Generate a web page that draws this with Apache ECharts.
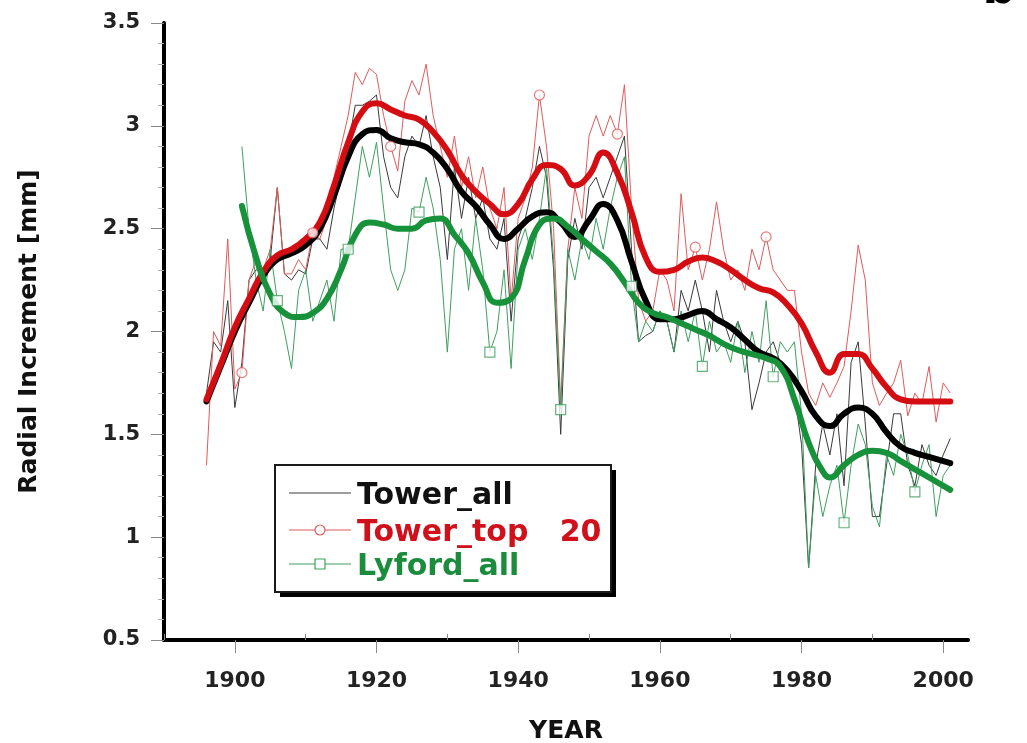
<!DOCTYPE html>
<html>
<head>
<meta charset="utf-8">
<script src="https://cdn.jsdelivr.net/npm/echarts@6/dist/echarts.min.js"></script>
<style>
  html, body { margin: 0; padding: 0; background: #fff; }
  #chart { width: 1027px; height: 743px; }
</style>
</head>
<body>
<div id="chart"></div>
<script>
// Annual radial increment [mm]
const towerAllStart = 1896;
const towerAll = [
  1.70, 1.95, 1.90, 2.15, 1.63, 1.85, 2.25, 2.30, 2.30, 2.35,
  2.70, 2.28, 2.25, 2.30, 2.28, 2.45, 2.45, 2.40, 2.60, 2.75,
  2.90, 3.10, 3.10, 3.12, 3.15, 2.85, 2.70, 2.65, 2.85, 2.95,
  2.90, 3.05, 2.85, 2.70, 2.35, 2.80, 2.55, 2.75, 2.55, 2.65,
  2.45, 2.40, 2.55, 2.05, 2.45, 2.55, 2.70, 2.90, 2.75, 2.30,
  1.50, 2.35, 2.55, 2.40, 2.70, 2.75, 2.65, 2.75, 2.85, 2.95,
  2.40, 1.95, 1.98, 2.00, 2.10, 2.05, 1.90, 2.20, 2.10, 2.25,
  2.10, 1.90, 2.20, 2.05, 1.95, 2.05, 1.95, 1.62, 1.75, 1.90,
  1.95, 1.85, 1.80, 1.70, 1.45, 0.85, 1.35, 1.55, 1.40, 1.60,
  1.25, 1.85, 1.95, 1.55, 1.10, 1.10, 1.35, 1.60, 1.60, 1.35,
  1.25, 1.45, 1.35, 1.30, 1.40, 1.48
];
const towerTopStart = 1896;
const towerTop = [
  1.35, 2.00, 1.93, 2.45, 1.72, 1.80, 2.25, 2.35, 2.30, 2.40,
  2.70, 2.28, 2.28, 2.35, 2.30, 2.48, 2.45, 2.55, 2.75, 2.90,
  3.05, 3.26, 3.20, 3.28, 3.25, 3.05, 2.90, 2.78, 3.12, 3.22,
  3.15, 3.30, 3.05, 2.90, 2.75, 2.95, 2.70, 2.85, 2.65, 2.80,
  2.60, 2.50, 2.70, 2.15, 2.55, 2.65, 2.80, 3.15, 2.90, 2.50,
  1.65, 2.40, 2.70, 2.55, 2.95, 3.05, 2.95, 3.05, 2.96, 3.20,
  2.60, 2.15, 2.05, 2.10, 2.30, 2.25, 2.10, 2.67, 2.30, 2.41,
  2.25, 2.40, 2.63, 2.40, 2.25, 2.30, 2.20, 2.40, 2.30, 2.46,
  2.30, 2.25, 2.20, 2.20, 1.90, 1.70, 1.64, 1.75, 1.68, 1.75,
  1.83, 2.10, 2.42, 2.25, 1.75, 1.64, 1.70, 1.75, 1.86, 1.59,
  1.70, 1.65, 1.83, 1.56, 1.75, 1.70
];
const lyfordStart = 1901;
const lyford = [
  2.90, 2.50, 2.25, 2.10, 2.40, 2.15, 2.00, 1.82, 2.20, 2.30,
  2.05, 2.15, 2.25, 2.05, 2.40, 2.40, 2.65, 2.90, 2.75, 2.92,
  2.60, 2.30, 2.20, 2.30, 2.60, 2.58, 2.75, 2.60, 2.35, 1.90,
  2.40, 2.50, 2.20, 2.55, 2.30, 1.90, 2.00, 2.30, 1.82, 2.40,
  2.50, 2.35, 2.55, 2.80, 2.35, 1.62, 2.40, 2.25, 2.45, 2.35,
  2.55, 2.40, 2.60, 2.75, 2.85, 2.22, 1.95, 2.05, 2.00, 2.10,
  2.05, 1.90, 2.10, 1.95, 2.10, 1.83, 2.05, 1.90, 1.95, 1.85,
  2.05, 1.80, 2.00, 1.85, 2.15, 1.78, 1.95, 1.90, 1.95, 1.60,
  0.85, 1.30, 1.10, 1.25, 1.35, 1.07, 1.35, 1.55, 1.45, 1.15,
  1.05, 1.40, 1.30, 1.50, 1.40, 1.22, 1.35, 1.45, 1.10, 1.30,
  1.35
];

// Smoothed growth curves [year, mm]
const towerAllSmooth = [
  [1896, 1.66], [1898, 1.83], [1900, 2.00], [1902, 2.14], [1904, 2.27],
  [1906, 2.35], [1908, 2.38], [1910, 2.42], [1912, 2.50], [1914, 2.66],
  [1916, 2.85], [1918, 2.96], [1920, 2.98], [1922, 2.94], [1924, 2.92],
  [1926, 2.91], [1928, 2.87], [1930, 2.79], [1932, 2.68], [1934, 2.61],
  [1936, 2.52], [1938, 2.45], [1940, 2.50], [1942, 2.56], [1944, 2.58],
  [1946, 2.53], [1948, 2.46], [1950, 2.54], [1952, 2.62], [1954, 2.54],
  [1956, 2.34], [1958, 2.15], [1960, 2.06], [1962, 2.06], [1964, 2.08],
  [1966, 2.10], [1968, 2.06], [1970, 2.02], [1972, 1.96], [1974, 1.90],
  [1976, 1.87], [1978, 1.81], [1980, 1.71], [1982, 1.59], [1984, 1.54],
  [1986, 1.60], [1988, 1.63], [1990, 1.60], [1992, 1.51], [1994, 1.44],
  [1996, 1.41], [1998, 1.39], [2001, 1.36]
];
const towerTopSmooth = [
  [1896, 1.67], [1898, 1.84], [1900, 2.02], [1902, 2.16], [1904, 2.29],
  [1906, 2.37], [1908, 2.40], [1910, 2.45], [1912, 2.53], [1914, 2.71],
  [1916, 2.92], [1918, 3.07], [1920, 3.11], [1922, 3.08], [1924, 3.05],
  [1926, 3.03], [1928, 2.97], [1930, 2.88], [1932, 2.76], [1934, 2.68],
  [1936, 2.62], [1938, 2.57], [1940, 2.62], [1942, 2.74], [1944, 2.81],
  [1946, 2.79], [1948, 2.71], [1950, 2.76], [1952, 2.87], [1954, 2.77],
  [1956, 2.58], [1958, 2.36], [1960, 2.29], [1962, 2.30], [1964, 2.34],
  [1966, 2.36], [1968, 2.34], [1970, 2.30], [1972, 2.25], [1974, 2.21],
  [1976, 2.19], [1978, 2.13], [1980, 2.04], [1982, 1.90], [1984, 1.80],
  [1986, 1.89], [1988, 1.89], [1990, 1.82], [1992, 1.73], [1994, 1.67],
  [1996, 1.66], [1998, 1.66], [2001, 1.66]
];
const lyfordSmooth = [
  [1901, 2.61], [1903, 2.36], [1905, 2.18], [1907, 2.09], [1909, 2.07],
  [1911, 2.09], [1913, 2.16], [1915, 2.30], [1917, 2.47], [1919, 2.53],
  [1921, 2.52], [1923, 2.50], [1925, 2.50], [1927, 2.54], [1929, 2.55],
  [1931, 2.47], [1933, 2.38], [1935, 2.24], [1937, 2.14], [1939, 2.16],
  [1941, 2.35], [1943, 2.52], [1945, 2.55], [1947, 2.51], [1949, 2.45],
  [1951, 2.39], [1953, 2.33], [1955, 2.24], [1957, 2.14], [1959, 2.09],
  [1961, 2.07], [1963, 2.04], [1965, 2.01], [1967, 1.98], [1969, 1.94],
  [1971, 1.91], [1973, 1.89], [1975, 1.87], [1977, 1.83], [1979, 1.67],
  [1981, 1.46], [1983, 1.32], [1984, 1.29], [1986, 1.35], [1988, 1.40],
  [1990, 1.42], [1992, 1.41], [1994, 1.37], [1996, 1.33], [1998, 1.29],
  [2001, 1.23]
];

// Years carrying an open marker on the annual curves
const towerTopMarkerYears = [1901, 1911, 1922, 1943, 1954, 1965, 1975];
const lyfordMarkerYears = [1906, 1916, 1926, 1936, 1946, 1956, 1966, 1976, 1986, 1996];

// Axis ticks
const yearTicks = [1900, 1920, 1940, 1960, 1980, 2000];
const decadeTicks = [1890, 1910, 1930, 1950, 1970, 1990];

const seriesNames = ['Tower_all', 'Tower_top   20', 'Lyford_all'];
const thinColors = ['#3a3a3a', '#e25a5a', '#3f9f5f'];
const thickColors = ['#000000', '#d40d12', '#17913a'];
const textColors = ['#111111', '#d0101a', '#1b8c3c'];

const FONT = '"DejaVu Sans", "Liberation Sans", sans-serif';

function toPairs(start, values) {
  return values.map((v, i) => [start + i, v]);
}
function pick(start, values, years) {
  return years.map(y => [y, values[y - start]]);
}

const chart = echarts.init(document.getElementById('chart'), null, { renderer: 'canvas' });

// Legend: framed box with a hard drop shadow
const box = { x: 275, y: 465, width: 336, height: 127 };
const rowY = [493, 530, 564];
const legendGraphics = [{
  type: 'rect', z: 99,
  shape: { x: box.x + 5, y: box.y + 5, width: box.width, height: box.height },
  style: { fill: '#000' }
}, {
  type: 'rect', z: 100,
  shape: { x: box.x, y: box.y, width: box.width, height: box.height },
  style: { fill: '#fff', stroke: '#1a1a1a', lineWidth: 2 }
}];
seriesNames.forEach((name, i) => {
  legendGraphics.push({
    type: 'line', z: 101,
    shape: { x1: 289, y1: rowY[i], x2: 351, y2: rowY[i] },
    style: { stroke: thinColors[i], lineWidth: 1 }
  });
  if (i === 1) {
    legendGraphics.push({
      type: 'circle', z: 102,
      shape: { cx: 320, cy: rowY[i], r: 5 },
      style: { fill: '#fff', stroke: thinColors[i], lineWidth: 1.2 }
    });
  } else if (i === 2) {
    legendGraphics.push({
      type: 'rect', z: 102,
      shape: { x: 315, y: rowY[i] - 5, width: 10, height: 10 },
      style: { fill: '#fff', stroke: thinColors[i], lineWidth: 1.2 }
    });
  }
  legendGraphics.push({
    type: 'text', z: 102,
    style: {
      text: name, x: 357, y: rowY[i] + 3,
      font: 'bold 30px ' + FONT, fill: textColors[i],
      verticalAlign: 'middle', align: 'left'
    }
  });
});
// Panel letter in the top right corner
legendGraphics.push({
  type: 'text', z: 102,
  style: {
    text: 'b', x: 999, y: -9,
    font: 'bold 46px ' + FONT, fill: '#000',
    verticalAlign: 'middle', align: 'center'
  }
});

const thinSeries = [
  { name: seriesNames[0], start: towerAllStart, values: towerAll },
  { name: seriesNames[1], start: towerTopStart, values: towerTop },
  { name: seriesNames[2], start: lyfordStart, values: lyford }
].map((s, i) => ({
  name: s.name,
  type: 'line',
  data: toPairs(s.start, s.values),
  symbol: 'none',
  smooth: false,
  z: 2,
  lineStyle: { color: thinColors[i], width: 1 },
  animation: false
}));

const thickSeries = [towerAllSmooth, towerTopSmooth, lyfordSmooth].map((d, i) => ({
  name: seriesNames[i] + ' smooth',
  type: 'line',
  data: d,
  symbol: 'none',
  smooth: 0.5,
  z: 3 + i,
  lineStyle: { color: thickColors[i], width: 6, cap: 'round', join: 'round' },
  animation: false
}));

const markerSeries = [
  {
    type: 'scatter',
    data: pick(towerTopStart, towerTop, towerTopMarkerYears),
    symbol: 'circle', symbolSize: 10, z: 10,
    itemStyle: { color: '#fff', borderColor: thinColors[1], borderWidth: 1.2 },
    animation: false
  },
  {
    type: 'scatter',
    data: pick(lyfordStart, lyford, lyfordMarkerYears),
    symbol: 'rect', symbolSize: 10, z: 10,
    itemStyle: { color: '#fff', borderColor: thinColors[2], borderWidth: 1.2 },
    animation: false
  }
];

chart.setOption({
  backgroundColor: '#fff',
  animation: false,
  grid: { left: 164, right: 59, top: 23, bottom: 103, containLabel: false, outerBoundsMode: 'none' },
  xAxis: [{
    type: 'value', min: 1890, max: 2003.5,
    axisLine: { show: true, lineStyle: { color: '#000', width: 4 } },
    axisTick: { show: true, customValues: yearTicks, length: 13, lineStyle: { color: '#888', width: 1 } },
    axisLabel: {
      customValues: yearTicks, margin: 30,
      formatter: v => String(v),
      fontSize: 22, fontWeight: 'bold', fontFamily: FONT, color: '#222'
    },
    splitLine: { show: false },
    name: 'YEAR', nameLocation: 'middle', nameGap: 79,
    nameTextStyle: { fontSize: 25, fontWeight: 'bold', fontFamily: FONT, color: '#111' }
  }, {
    type: 'value', min: 1890, max: 2003.5, position: 'bottom',
    axisLine: { show: false },
    axisTick: { show: true, inside: true, customValues: decadeTicks, length: 6, lineStyle: { color: '#888', width: 1 } },
    axisLabel: { show: false },
    splitLine: { show: false }
  }],
  yAxis: {
    type: 'value', min: 0.5, max: 3.5, interval: 0.5,
    axisLine: { show: true, lineStyle: { color: '#000', width: 4 } },
    axisTick: { show: true, length: 13, lineStyle: { color: '#888', width: 1 } },
    minorTick: { show: true, splitNumber: 5, length: 6, lineStyle: { color: '#aaa', width: 1 } },
    axisLabel: { margin: 24, fontSize: 21, fontWeight: 'bold', fontFamily: FONT, color: '#222' },
    splitLine: { show: false },
    name: 'Radial Increment [mm]', nameLocation: 'middle', nameGap: 122, nameRotate: 90,
    nameTextStyle: { fontSize: 25, fontWeight: 'bold', fontFamily: FONT, color: '#111' }
  },
  series: [...thinSeries, ...thickSeries, ...markerSeries],
  graphic: legendGraphics
});
</script>
</body>
</html>
